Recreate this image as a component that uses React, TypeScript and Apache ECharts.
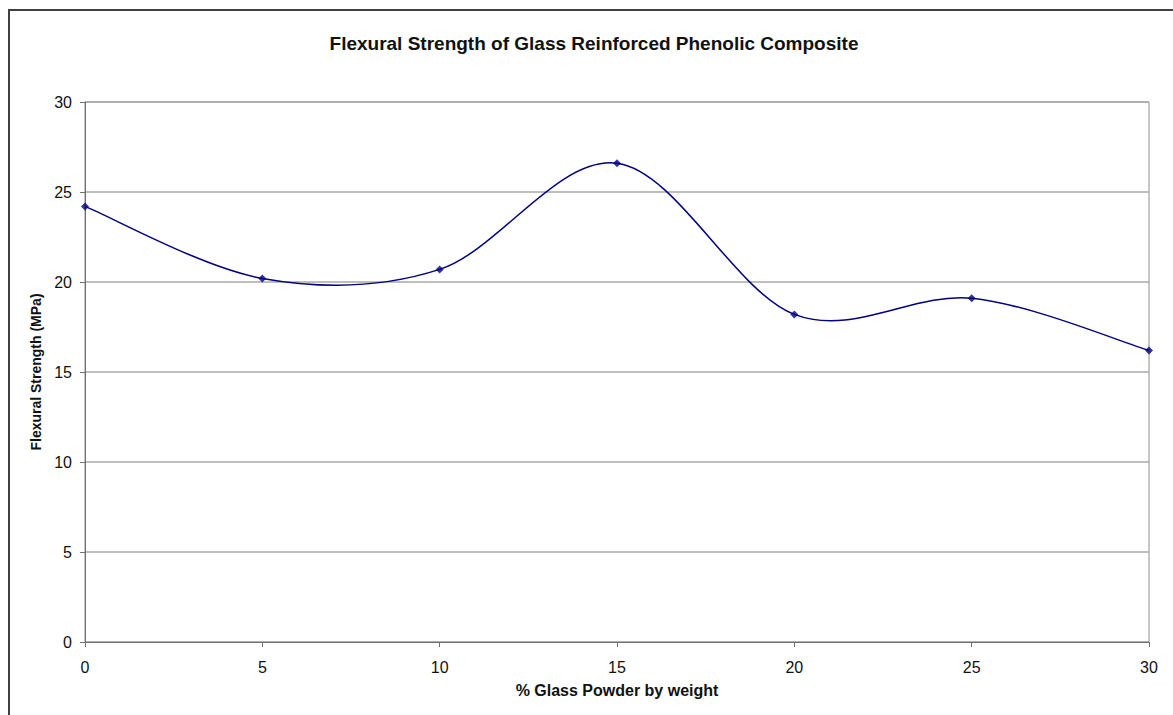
import React, { useEffect, useRef } from "react";
import * as echarts from "echarts";

const glassPercent = [0, 5, 10, 15, 20, 25, 30];
const flexuralStrength = [24.2, 20.2, 20.7, 26.6, 18.2, 19.1, 16.2];
const chartTitle = "Flexural Strength of Glass Reinforced Phenolic Composite";
const xAxisTitle = "% Glass Powder by weight";
const yAxisTitle = "Flexural Strength (MPa)";

export default function App() {
  const ref = useRef<HTMLDivElement>(null);
  useEffect(() => {
    document.body.style.margin = "0";
    const chart = echarts.init(ref.current!, null, { renderer: "svg" });
    const font = "Arial, 'Liberation Sans', sans-serif";
    const n = glassPercent.length;
    const points = glassPercent.map((x, i) => [x, flexuralStrength[i]]);
    chart.setOption({
      animation: false,
      backgroundColor: "#ffffff",
      title: {
        text: chartTitle,
        left: 589,
        top: 29,
        textAlign: "center",
        textStyle: { fontFamily: font, fontSize: 19, fontWeight: "bold", color: "#111" },
      },
      graphic: [
        {
          type: "rect",
          shape: { x: 9, y: 10, width: 1200, height: 760 },
          style: { fill: "none", stroke: "#404040", lineWidth: 2 },
          silent: true,
        },
      ],
      grid: {
        left: 85,
        top: 102,
        width: 1064,
        height: 540,
        show: true,
        borderColor: "#8c8c8c",
        borderWidth: 1,
        containLabel: false,
      },
      xAxis: {
        type: "value",
        min: 0,
        max: 30,
        interval: 5,
        name: xAxisTitle,
        nameLocation: "middle",
        nameGap: 40,
        nameTextStyle: { fontFamily: font, fontSize: 16, fontWeight: "bold", color: "#111" },
        axisLine: { show: true, lineStyle: { color: "#707070", width: 1 } },
        axisTick: { show: true, length: 5, lineStyle: { color: "#707070" } },
        axisLabel: { fontFamily: font, fontSize: 16, color: "#111", margin: 17 },
        splitLine: { show: false },
      },
      yAxis: {
        type: "value",
        min: 0,
        max: 30,
        interval: 5,
        name: yAxisTitle,
        nameLocation: "middle",
        nameGap: 42,
        nameTextStyle: { fontFamily: font, fontSize: 14, fontWeight: "bold", color: "#111" },
        axisLine: { show: true, lineStyle: { color: "#707070", width: 1 } },
        axisTick: { show: true, length: 5, lineStyle: { color: "#707070" } },
        axisLabel: { fontFamily: font, fontSize: 16, color: "#111", margin: 13 },
        splitLine: { show: true, lineStyle: { color: "#a8a8a8", width: 1.5 } },
      },
      series: [
        {
          type: "custom",
          data: points.slice(0, n - 1),
          encode: { x: 0, y: 1 },
          z: 2,
          renderItem: (params: any, api: any) => {
            const i = params.dataIndex;
            const c = (k: number) => api.coord(points[Math.max(0, Math.min(n - 1, k))]);
            const p0 = c(i - 1);
            const p1 = c(i);
            const p2 = c(i + 1);
            const p3 = c(i + 2);
            return {
              type: "bezierCurve",
              shape: {
                x1: p1[0],
                y1: p1[1],
                x2: p2[0],
                y2: p2[1],
                cpx1: p1[0] + (p2[0] - p0[0]) / 6,
                cpy1: p1[1] + (p2[1] - p0[1]) / 6,
                cpx2: p2[0] - (p3[0] - p1[0]) / 6,
                cpy2: p2[1] - (p3[1] - p1[1]) / 6,
              },
              style: { stroke: "#000080", lineWidth: 1.5, fill: "none" },
            };
          },
        },
        {
          type: "scatter",
          data: points,
          symbol: "diamond",
          symbolSize: 8,
          z: 3,
          itemStyle: { color: "#000080" },
        },
      ],
    });
    return () => chart.dispose();
  }, []);
  return <div ref={ref} style={{ width: 1173, height: 715 }} />;
}
